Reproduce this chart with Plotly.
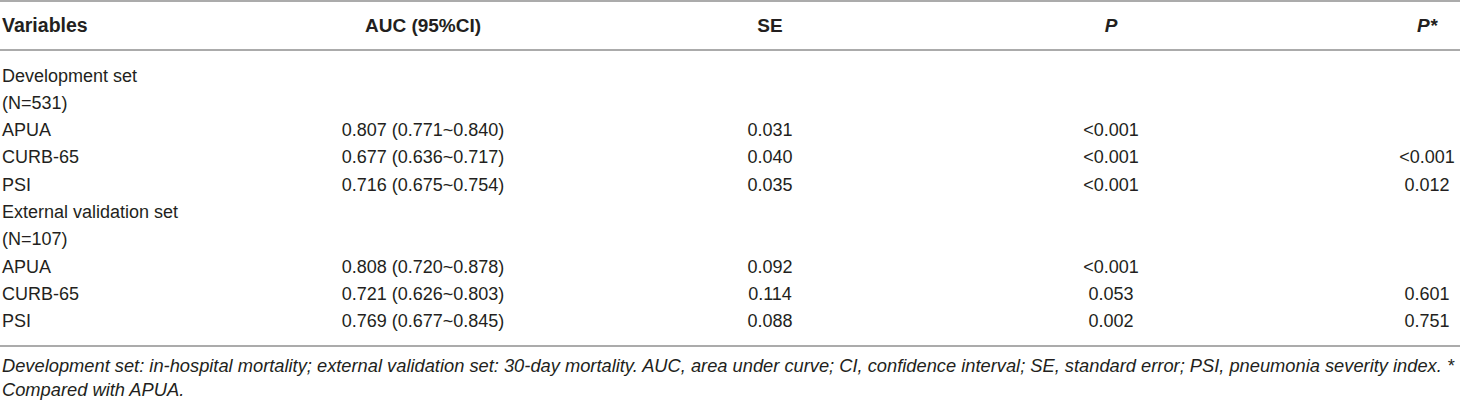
import plotly.graph_objects as go

# table content
headers = ['<b>Variables</b>', '<b>AUC (95%CI)</b>', '<b>SE</b>', '<b><i>P</i></b>', '<b><i>P*</i></b>']
variables = ['Development set', '(N=531)', 'APUA', 'CURB-65', 'PSI',
             'External validation set', '(N=107)', 'APUA', 'CURB-65', 'PSI']
auc = ['', '', '0.807 (0.771~0.840)', '0.677 (0.636~0.717)', '0.716 (0.675~0.754)',
       '', '', '0.808 (0.720~0.878)', '0.721 (0.626~0.803)', '0.769 (0.677~0.845)']
se = ['', '', '0.031', '0.040', '0.035', '', '', '0.092', '0.114', '0.088']
p = ['', '', '<0.001', '<0.001', '<0.001', '', '', '<0.001', '0.053', '0.002']
p_star = ['', '', '', '<0.001', '0.012', '', '', '', '0.601', '0.751']
footnote = ['Development set: in-hospital mortality; external validation set: 30-day mortality. '
            'AUC, area under curve; CI, confidence interval; SE, standard error; PSI, pneumonia severity index. *',
            'Compared with APUA.']

W, H = 1460, 404
font = 'Liberation Sans, Arial, sans-serif'
txt_color = '#231f20'

# layout positions (pixels)
col_x = [2, 423, 770, 1111, 1427]
header_y = 27
row_y = [77 + i * 27.3 for i in range(len(variables))]
foot_y = [367, 391]
rule_y = [1, 50, 346]

fig = go.Figure()

# header row
fig.add_trace(go.Scatter(x=col_x[:1], y=[header_y], text=headers[:1], mode='text',
                         textposition='middle right', textfont_size=19.5))
fig.add_trace(go.Scatter(x=col_x[1:], y=[header_y] * 4, text=headers[1:], mode='text',
                         textposition='middle center', textfont_size=19))

# body
fig.add_trace(go.Scatter(x=[col_x[0]] * len(variables), y=row_y, text=variables, mode='text',
                         textposition='middle right', textfont_size=18))
for cx, col in zip(col_x[1:], [auc, se, p, p_star]):
    fig.add_trace(go.Scatter(x=[cx] * len(col), y=row_y, text=col, mode='text',
                             textposition='middle center', textfont_size=18))

# footnote
fig.add_trace(go.Scatter(x=[2, 2], y=foot_y, text=['<i>' + f + '</i>' for f in footnote],
                         mode='text', textposition='middle right', textfont_size=18.3))

fig.update_traces(textfont=dict(family=font, color=txt_color), hoverinfo='skip',
                  showlegend=False)

# horizontal rules
for ry in rule_y:
    fig.add_shape(type='line', x0=0, x1=W, y0=ry, y1=ry, xref='x', yref='y',
                  line=dict(color='#ababab', width=2))

fig.update_xaxes(range=[0, W], visible=False, fixedrange=True)
fig.update_yaxes(range=[H, 0], visible=False, fixedrange=True)
fig.update_layout(width=W, height=H, margin=dict(l=0, r=0, t=0, b=0),
                  plot_bgcolor='white', paper_bgcolor='white')

# drop the default page margin so the figure sits at the window's corner
fig.write_html('out.html', config={'displayModeBar': False},
               post_script="document.body.style.margin='0';document.body.style.overflow='hidden';")
